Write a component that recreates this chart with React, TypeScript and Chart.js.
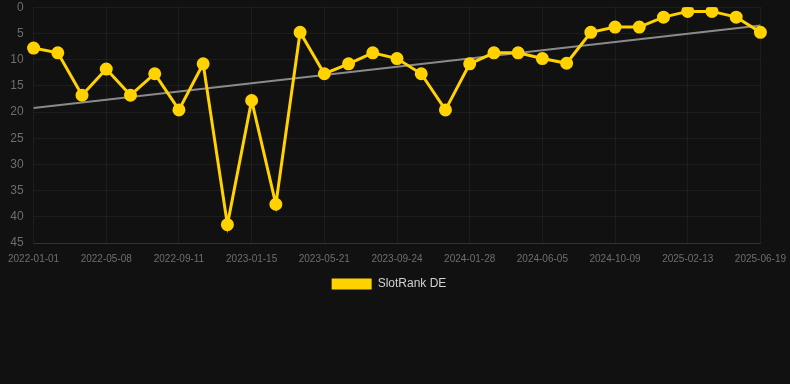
import React, { useEffect, useRef } from "react";
import { Chart, registerables } from "chart.js";

Chart.register(...registerables);

const categories: string[] = [
  "2022-01-01", "2022-02-12", "2022-03-26", "2022-05-08", "2022-06-19", "2022-07-31",
  "2022-09-11", "2022-10-23", "2022-12-04", "2023-01-15", "2023-02-26", "2023-04-09",
  "2023-05-21", "2023-07-02", "2023-08-13", "2023-09-24", "2023-11-05", "2023-12-17",
  "2024-01-28", "2024-03-10", "2024-04-22", "2024-06-05", "2024-07-17", "2024-08-28",
  "2024-10-09", "2024-11-20", "2025-01-01", "2025-02-13", "2025-03-27", "2025-05-08",
  "2025-06-19",
];

const rankValues: number[] = [
  7.8, 8.7, 16.8, 11.8, 16.8, 12.7, 19.6, 10.8, 41.5, 17.8, 37.6, 4.8, 12.7, 10.8, 8.7,
  9.8, 12.7, 19.6, 10.8, 8.7, 8.7, 9.8, 10.7, 4.8, 3.8, 3.8, 1.9, 0.8, 0.8, 1.9, 4.8,
];

const seriesLabel = "SlotRank DE";

function linearTrend(values: number[]): number[] {
  const n = values.length;
  const mx = (n - 1) / 2;
  const my = values.reduce((a, b) => a + b, 0) / n;
  let num = 0;
  let den = 0;
  values.forEach((v, i) => {
    num += (i - mx) * (v - my);
    den += (i - mx) * (i - mx);
  });
  const slope = num / den;
  return values.map((_, i) => my + slope * (i - mx));
}

const legendShift = {
  id: "legendShift",
  afterLayout(chart: any) {
    const lg = chart.legend;
    if (lg) {
      lg.left -= 8;
      lg.right -= 8;
    }
  },
};

export default function App() {
  const ref = useRef<HTMLCanvasElement | null>(null);

  useEffect(() => {
    document.body.style.margin = "0";
    document.body.style.background = "#111111";
    document.body.style.overflow = "hidden";
    document.documentElement.style.overflow = "hidden";
    if (!ref.current) return;
    const trend = linearTrend(rankValues);
    const chart = new Chart(ref.current, {
      type: "line",
      data: {
        labels: categories,
        datasets: [
          {
            label: seriesLabel,
            data: rankValues,
            borderColor: "#FFD200",
            backgroundColor: "#FFD200",
            borderWidth: 3,
            pointRadius: 5,
            pointHoverRadius: 5,
            pointBackgroundColor: "#FFD200",
            pointBorderColor: "#FFD200",
            tension: 0,
          },
          {
            label: "trend",
            data: trend,
            borderColor: "#8a8a8a",
            backgroundColor: "#8a8a8a",
            borderWidth: 2,
            pointRadius: 0,
            tension: 0,
          },
        ],
      },
      plugins: [legendShift],
      options: {
        animation: false,
        responsive: true,
        maintainAspectRatio: false,
        layout: { autoPadding: false, padding: 0 },
        plugins: {
          tooltip: { enabled: false },
          legend: {
            position: "bottom",
            labels: {
              color: "#d0d0d0",
              boxWidth: 40,
              boxHeight: 11,
              padding: 5,
              font: { size: 12 },
              generateLabels: (c: any) =>
                Chart.defaults.plugins.legend.labels
                  .generateLabels(c)
                  .filter((it: any) => it.text === seriesLabel)
                  .map((it: any) => ({ ...it, lineWidth: 0 })),
            },
          },
        },
        scales: {
          x: {
            grid: {
              color: "rgba(255,255,255,0.05)",
              drawTicks: true,
              tickLength: 2,
              tickColor: "rgba(0,0,0,0)",
            },
            border: { color: "rgba(255,255,255,0.1)" },
            ticks: {
              color: "#6e6e6e",
              font: { size: 10 },
              maxRotation: 0,
              autoSkip: true,
              maxTicksLimit: 11,
              padding: 8,
            },
          },
          y: {
            reverse: true,
            min: 0,
            max: 45,
            grid: {
              color: "rgba(255,255,255,0.05)",
              drawTicks: true,
              tickLength: 10,
              tickColor: "rgba(0,0,0,0)",
            },
            border: { display: false },
            ticks: {
              stepSize: 5,
              color: "#6e6e6e",
              font: { size: 12 },
              padding: 0,
            },
          },
        },
      },
    });
    return () => chart.destroy();
  }, []);

  return (
    <div style={{ width: 794, height: 300, background: "#111111" }}>
      <canvas ref={ref} />
    </div>
  );
}
